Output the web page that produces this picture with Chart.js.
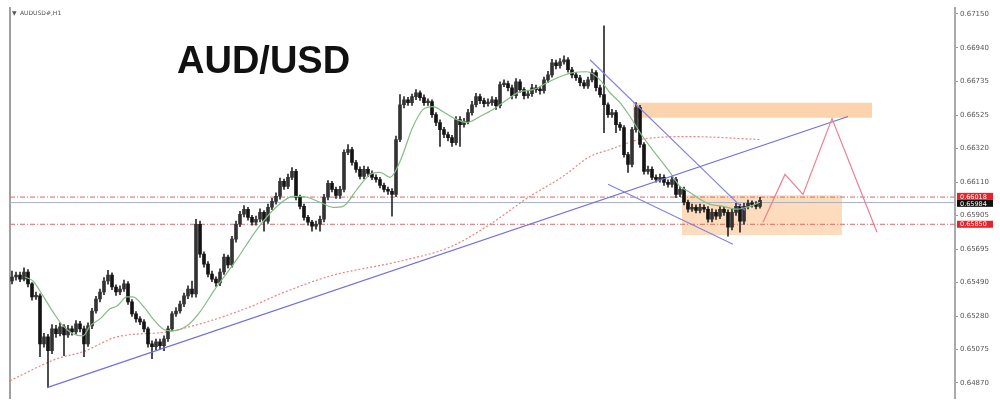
<!DOCTYPE html>
<html><head><meta charset="utf-8">
<script src="https://cdn.jsdelivr.net/npm/chart.js@4.4.1/dist/chart.umd.min.js"></script>
<style>html,body{margin:0;padding:0;background:#fff;}</style>
</head><body>
<canvas id="c" width="1000" height="405"></canvas>
<script>
// ---------- DATA ----------
const symbolLabel = "AUDUSD#,H1";
const chartTitle = "AUD/USD";
const tickValues = [0.67150,0.66940,0.66735,0.66525,0.66320,0.66110,0.65905,0.65695,0.65490,0.65280,0.65075,0.64870];
const firstOpen = 0.65499;
const closes = [
0.65524,0.65536,0.65511,0.65555,0.65481,0.65401,0.65407,0.65111,0.65154,0.65068,
0.65203,0.65173,0.65216,0.65166,0.65203,0.65185,0.65234,0.65203,0.65111,0.65222,
0.65314,0.65388,0.65431,0.65499,0.65536,0.65462,0.65431,0.65450,0.65481,0.65370,
0.65296,0.65265,0.65247,0.65203,0.65111,0.65093,0.65123,0.65099,0.65142,0.65203,
0.65296,0.65314,0.65357,0.65407,0.65450,0.65419,0.65850,0.65665,0.65604,0.65542,
0.65511,0.65487,0.65555,0.65647,0.65598,0.65758,0.65850,0.65912,0.65943,0.65893,
0.65863,0.65881,0.65924,0.65869,0.65955,0.65992,0.66023,0.66115,0.66084,0.66140,
0.66177,0.66017,0.65961,0.65893,0.65863,0.65838,0.65850,0.65881,0.66017,0.66103,
0.66066,0.66029,0.66066,0.66294,0.66312,0.66232,0.66189,0.66146,0.66189,0.66164,
0.66140,0.66127,0.66090,0.66066,0.66054,0.66035,0.66374,0.66589,0.66620,0.66602,
0.66639,0.66663,0.66633,0.66602,0.66608,0.66528,0.66479,0.66435,0.66405,0.66386,
0.66355,0.66497,0.66466,0.66485,0.66540,0.66589,0.66639,0.66614,0.66596,0.66602,
0.66620,0.66583,0.66713,0.66719,0.66694,0.66645,0.66731,0.66682,0.66645,0.66657,
0.66694,0.66682,0.66676,0.66743,0.66774,0.66848,0.66830,0.66854,0.66867,0.66805,
0.66774,0.66756,0.66725,0.66706,0.66743,0.66787,0.66694,0.66651,0.66589,0.66528,
0.66540,0.66466,0.66448,0.66281,0.66220,0.66435,0.66571,0.66343,0.66177,0.66189,
0.66140,0.66127,0.66140,0.66109,0.66097,0.66127,0.66035,0.66066,0.65986,0.65943,
0.65955,0.65936,0.65955,0.65943,0.65881,0.65924,0.65900,0.65943,0.65924,0.65832,
0.65924,0.65961,0.65869,0.65961,0.65980,0.65973,0.65961,0.65998
];
const highs = [
0.65561,0.65555,0.65555,0.65580,0.65570,0.65490,0.65430,0.65420,0.65175,0.65170,
0.65230,0.65225,0.65240,0.65230,0.65225,0.65220,0.65255,0.65250,0.65220,0.65240,
0.65330,0.65405,0.65450,0.65520,0.65565,0.65550,0.65475,0.65470,0.65505,0.65495,
0.65385,0.65310,0.65280,0.65260,0.65215,0.65130,0.65140,0.65140,0.65160,0.65220,
0.65310,0.65335,0.65375,0.65425,0.65470,0.65499,0.65881,0.65870,0.65680,0.65620,
0.65560,0.65525,0.65575,0.65665,0.65660,0.65775,0.65870,0.65930,0.65965,0.65955,
0.65905,0.65900,0.65945,0.65935,0.65975,0.66010,0.66045,0.66135,0.66130,0.66160,
0.66201,0.66190,0.66030,0.65975,0.65905,0.65875,0.65870,0.65900,0.66035,0.66120,
0.66115,0.66080,0.66085,0.66310,0.66343,0.66325,0.66245,0.66205,0.66210,0.66205,
0.66180,0.66155,0.66140,0.66105,0.66080,0.66070,0.66395,0.66651,0.66640,0.66635,
0.66655,0.66682,0.66675,0.66650,0.66625,0.66620,0.66540,0.66495,0.66450,0.66420,
0.66400,0.66515,0.66515,0.66505,0.66560,0.66610,0.66660,0.66655,0.66630,0.66625,
0.66640,0.66635,0.66730,0.66743,0.66735,0.66710,0.66750,0.66745,0.66695,0.66675,
0.66715,0.66710,0.66700,0.66760,0.66795,0.66870,0.66865,0.66875,0.66891,0.66880,
0.66820,0.66790,0.66770,0.66740,0.66760,0.66810,0.66800,0.66710,0.67076,0.66600,
0.66560,0.66555,0.66480,0.66460,0.66295,0.66450,0.66602,0.66585,0.66355,0.66210,
0.66205,0.66155,0.66160,0.66155,0.66125,0.66145,0.66140,0.66085,0.66080,0.66000,
0.65975,0.65970,0.65975,0.65970,0.65960,0.65945,0.65940,0.65960,0.65960,0.65940,
0.65945,0.65980,0.65975,0.65980,0.66000,0.65995,0.65990,0.66017
];
const lows = [
0.65481,0.65505,0.65495,0.65500,0.65462,0.65380,0.65385,0.65031,0.65090,0.64840,
0.65050,0.65150,0.65160,0.65037,0.65150,0.65165,0.65170,0.65185,0.65031,0.65095,
0.65205,0.65300,0.65370,0.65415,0.65480,0.65445,0.65410,0.65415,0.65435,0.65355,
0.65280,0.65245,0.65230,0.65185,0.65090,0.65019,0.65075,0.65080,0.65068,0.65125,
0.65190,0.65280,0.65300,0.65340,0.65390,0.65400,0.65400,0.65645,0.65585,0.65525,
0.65495,0.65465,0.65470,0.65540,0.65580,0.65585,0.65740,0.65835,0.65895,0.65875,
0.65845,0.65845,0.65865,0.65807,0.65855,0.65940,0.65975,0.66005,0.66065,0.66070,
0.66125,0.66000,0.65945,0.65875,0.65845,0.65807,0.65820,0.65807,0.65865,0.66000,
0.66050,0.66010,0.66010,0.66050,0.66280,0.66215,0.66170,0.66130,0.66130,0.66145,
0.66125,0.66110,0.66075,0.66050,0.66035,0.65900,0.66020,0.66360,0.66570,0.66585,
0.66585,0.66620,0.66615,0.66585,0.66585,0.66510,0.66460,0.66331,0.66385,0.66365,
0.66331,0.66340,0.66331,0.66450,0.66470,0.66525,0.66575,0.66595,0.66575,0.66580,
0.66585,0.66560,0.66570,0.66700,0.66675,0.66625,0.66630,0.66665,0.66625,0.66630,
0.66640,0.66665,0.66655,0.66660,0.66725,0.66760,0.66810,0.66815,0.66840,0.66790,
0.66755,0.66740,0.66705,0.66690,0.66690,0.66730,0.66675,0.66635,0.66417,0.66510,
0.66510,0.66417,0.66430,0.66265,0.66171,0.66205,0.66420,0.66325,0.66160,0.66160,
0.66125,0.66110,0.66110,0.66090,0.66080,0.66080,0.66015,0.66020,0.65970,0.65925,
0.65930,0.65920,0.65920,0.65925,0.65863,0.65865,0.65880,0.65885,0.65905,0.65776,
0.65815,0.65905,0.65801,0.65850,0.65945,0.65955,0.65945,0.65950
];
// fast moving average (green) at bar positions
const maFastIdx = [3.25,5.25,7.75,10.25,12.75,15.25,17.75,19.5,22,24.5,26.25,28.75,30.25,32.75,35.25,37.75,40.25,43.75,47,50.25,56.25,61.25,66.25,70.25,73.75,77,80.25,82.75,86.25,89.5,92,94.5,97,100.25,102.75,105.25,107.75,110.25,113.75,117,120.25,123.75,127,130.25,133.75,137,140.25,143.75,147,149.5,152,154.5,157,159.5,162,164.5,167,169.5,172,174.5,177.75,181.25,184.5,187];
const maFastVal = [0.65524,0.65499,0.65407,0.65308,0.65222,0.65173,0.65160,0.65222,0.65265,0.65327,0.65345,0.65401,0.65401,0.65345,0.65265,0.65203,0.65191,0.65222,0.65308,0.65431,0.65635,0.65819,0.65961,0.66023,0.66017,0.65986,0.65955,0.65961,0.66066,0.66158,0.66171,0.66140,0.66238,0.66454,0.66559,0.66577,0.66546,0.66509,0.66479,0.66516,0.66559,0.66620,0.66670,0.66682,0.66725,0.66762,0.66787,0.66793,0.66743,0.66663,0.66602,0.66516,0.66417,0.66331,0.66251,0.66171,0.66084,0.66047,0.66004,0.65973,0.65961,0.65943,0.65961,0.65986];
// slow moving average (red dotted)
const maSlowIdx = [-0.5,11.25,17.75,26.25,38.75,47,59.5,67,79.5,97,109.5,119.5,129.5,137.75,144.5,149.5,157,169.5,187];
const maSlowVal = [0.64883,0.65019,0.65062,0.65154,0.65185,0.65234,0.65339,0.65419,0.65530,0.65622,0.65709,0.65850,0.66023,0.66146,0.66269,0.66312,0.66374,0.66392,0.66374];
// drawn objects: [bar index, price]
const trendMain = [[8.75,0.64840],[209,0.66516]];
const channelUpper = [[144.5,0.66867],[183.25,0.65936]];
const channelLower = [[149,0.66097],[180.25,0.65727]];
const projection = [[187.75,0.65863],[193.25,0.66158],[197.75,0.66035],[205,0.66503],[216.25,0.65801]];
// zones: [start index, end index, top price, bottom price]
const supplyZone = [155.25,215,0.66602,0.66509];
const demandZone = [167.5,207.5,0.66029,0.65783];
const levelValues = [0.66018,0.65850];
const bidValue = 0.65984;
const priceTags = [["0.66018",0.66018,"#e3242b"],["0.65984",0.65984,"#111111"],["0.65850",0.65850,"#e3242b"]];

// ---------- BUILD ----------
const X_MIN = -0.5, X_MAX = 235.75;
const opens = closes.map((c,i)=> i===0 ? firstOpen : closes[i-1]);
const pts = arr => arr.map(p=>({x:p[0],y:p[1]}));
const AX = {xAxisID:'x', yAxisID:'y'};
const lineDS = (data, color, width, order, dash) => Object.assign({type:'line', data, borderColor:color, borderWidth:width, pointRadius:0, fill:false, order, borderDash:dash||[], tension:0}, AX);
const zoneDS = (z, top, color) => Object.assign({type:'line', data:[{x:z[0],y:top?z[2]:z[3]},{x:z[1],y:top?z[2]:z[3]}], borderWidth:0, borderColor:'rgba(0,0,0,0)', pointRadius:0, fill: top ? '+1' : false, backgroundColor:color, order:30}, AX);

const datasets = [
  zoneDS(supplyZone, true, 'rgb(251,211,172)'),
  zoneDS(supplyZone, false, 'rgba(0,0,0,0)'),
  zoneDS(demandZone, true, 'rgba(251,214,178,0.85)'),
  zoneDS(demandZone, false, 'rgba(0,0,0,0)'),
  lineDS([{x:X_MIN,y:levelValues[0]},{x:X_MAX,y:levelValues[0]}], '#e06666', 1, 20, [5,2,1,2]),
  lineDS([{x:X_MIN,y:levelValues[1]},{x:X_MAX,y:levelValues[1]}], '#e06666', 1, 20, [5,2,1,2]),
  lineDS([{x:X_MIN,y:bidValue},{x:X_MAX,y:bidValue}], '#a9b0bf', 1, 20),
  Object.assign(lineDS(maSlowIdx.map((x,i)=>({x,y:maSlowVal[i]})), '#ee8080', 1.2, 18, [2,2]), {cubicInterpolationMode:'monotone'}),
  Object.assign({type:'bar', data:closes.map((c,i)=>({x:i,y:[lows[i],highs[i]]})), backgroundColor:'#2a2a2a', barThickness:1, grouped:false, order:12}, AX),
  Object.assign({type:'bar', data:closes.map((c,i)=>({x:i,y:[opens[i],c]})), backgroundColor:closes.map((c,i)=> c>=opens[i] ? '#333333' : '#141414'), barThickness:3, minBarLength:1.5, grouped:false, order:11}, AX),
  Object.assign(lineDS(maFastIdx.map((x,i)=>({x,y:maFastVal[i]})), '#86bb86', 1.2, 8), {cubicInterpolationMode:'monotone'}),
  lineDS(pts(trendMain), '#7070e2', 1.2, 7),
  lineDS(pts(channelUpper), '#8080e4', 1.1, 7),
  lineDS(pts(channelLower), '#8080e4', 1.1, 7),
  lineDS(pts(projection), '#f07e8e', 1.2, 6)
];

const overlay = {
  id:'overlay',
  afterDraw(chart){
    const ctx = chart.ctx, ys = chart.scales.y;
    ctx.save();
    ctx.fillStyle = '#111';
    ctx.font = "bold 38px 'Liberation Sans', Arial, sans-serif";
    ctx.textBaseline = 'alphabetic';
    ctx.textAlign = 'left';
    ctx.fillText(chartTitle, 177, 73);
    ctx.fillStyle = '#555';
    ctx.font = "6px 'DejaVu Sans', sans-serif";
    ctx.textBaseline = 'middle';
    ctx.fillText('\u25BC', 12, 13);
    ctx.fillText(symbolLabel, 20, 13);
    const h = 7;
    const boxes = priceTags.map(t=>({t, c: ys.getPixelForValue(t[1])}));
    for (let k=1;k<boxes.length;k++){
      const ov = (boxes[k-1].c + h) - boxes[k].c;
      if (ov > 0){ boxes[k-1].c -= ov/2; boxes[k].c += ov/2; }
    }
    const x0 = chart.chartArea.right + 2;
    boxes.forEach(b=>{
      ctx.fillStyle = b.t[2];
      ctx.fillRect(x0, b.c - h/2, 36, h);
      ctx.fillStyle = '#fff';
      ctx.font = "6.5px 'DejaVu Sans', sans-serif";
      ctx.textAlign = 'left';
      ctx.textBaseline = 'middle';
      ctx.fillText(b.t[0], x0 + 3, b.c + 0.5);
    });
    ctx.restore();
  }
};

new Chart(document.getElementById('c'), {
  type:'bar',
  data:{datasets},
  options:{
    responsive:false,
    animation:false,
    events:[],
    layout:{padding:{top:8,bottom:5,left:0,right:0}},
    plugins:{legend:{display:false}, tooltip:{enabled:false}},
    scales:{
      x:{type:'linear', min:X_MIN, max:X_MAX, offset:false, display:false},
      y:{type:'linear', position:'right', min:0.64771, max:0.67187,
         afterBuildTicks(s){ s.ticks = tickValues.map(v=>({value:v})); },
         afterFit(s){ s.width = 45; },
         ticks:{autoSkip:false, padding:2, color:'#555', font:{size:7, family:"'DejaVu Sans', sans-serif"},
                callback:(v)=>Number(v).toFixed(5)},
         grid:{display:true, drawOnChartArea:false, drawTicks:true, tickLength:3, color:'#999'},
         border:{display:true, color:'#aaaaaa', width:2}},
      yL:{type:'linear', position:'left', min:0, max:1, display:true,
          ticks:{display:false}, grid:{display:false, drawTicks:false},
          border:{display:true, color:'#a0a0a0', width:2},
          afterFit(s){ s.width = 10; }}
    }
  },
  plugins:[overlay]
});
</script>
</body></html>
